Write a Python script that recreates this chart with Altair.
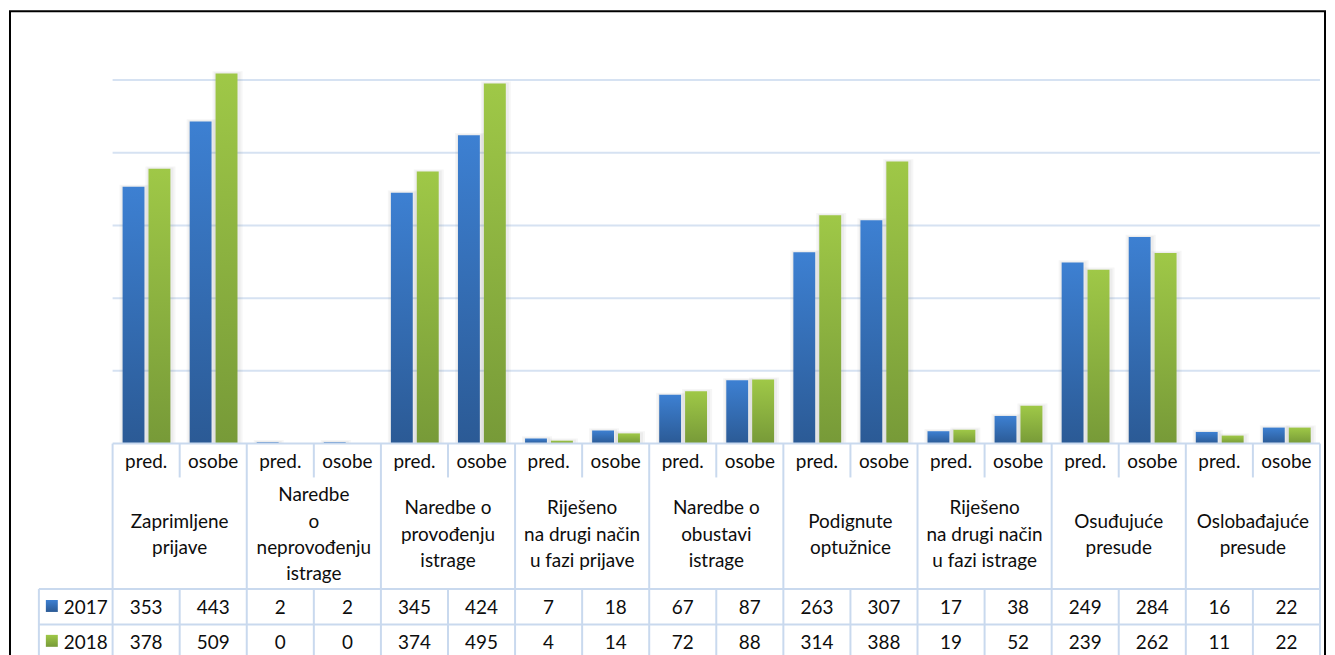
import altair as alt
import pandas as pd

# ---- data ----
subcats = ["pred.", "osobe"] * 9
groups = [
    "Zaprimljene\nprijave",
    "Naredbe\no\nneprovođenju\nistrage",
    "Naredbe o\nprovođenju\nistrage",
    "Riješeno\nna drugi način\nu fazi prijave",
    "Naredbe o\nobustavi\nistrage",
    "Podignute\noptužnice",
    "Riješeno\nna drugi način\nu fazi istrage",
    "Osuđujuće\npresude",
    "Oslobađajuće\npresude",
]
v2017 = [353, 443, 2, 2, 345, 424, 7, 18, 67, 87, 263, 307, 17, 38, 249, 284, 16, 22]
v2018 = [378, 509, 0, 0, 374, 495, 4, 14, 72, 88, 314, 388, 19, 52, 239, 262, 11, 22]
years = ["2017", "2018"]
grid_values = [100, 200, 300, 400, 500]

# ---- layout constants ----
W, H = 1320, 650
COLW = 67.33
D0 = -103 / COLW
D1 = D0 + W / COLW
LEG_L = 29 / COLW + D0
FONT = "Lato"
FS = 19
LH = 26.5

xs = alt.Scale(domain=[D0, D1], nice=False, zero=False)
by = alt.Scale(domain=[-(H - 434) / 0.73, 434 / 0.73], nice=False, zero=False)
ty = alt.Scale(domain=[-434, H - 434], nice=False, zero=False, reverse=True)

n = len(subcats)
bars = pd.DataFrame({
    "i": list(range(n)),
    "sub": subcats,
    "v2017": v2017,
    "v2018": v2018,
})
bars["c"] = bars["i"] + 0.5
bars["bx0"] = bars["i"] + 0.149
bars["bx1"] = bars["i"] + 0.475
bars["gx0"] = bars["i"] + 0.535
bars["gx1"] = bars["i"] + 0.862
bars["zero"] = 0

blue_grad = alt.Gradient(gradient="linear", x1=0, x2=0, y1=0, y2=1,
                         stops=[alt.GradientStop(color="#3D80D2", offset=0),
                                alt.GradientStop(color="#2B5A95", offset=1)])
green_grad = alt.Gradient(gradient="linear", x1=0, x2=0, y1=0, y2=1,
                          stops=[alt.GradientStop(color="#9FC847", offset=0),
                                 alt.GradientStop(color="#779A38", offset=1)])

base = alt.Chart(bars)

grid = alt.Chart(pd.DataFrame({"g": grid_values, "a": 0, "b": 18})).mark_rule(
    color="#D6E2F2", strokeWidth=2
).encode(
    x=alt.X("a:Q", scale=xs, axis=None),
    x2="b:Q",
    y=alt.Y("g:Q", scale=by, axis=None),
)

def shadow(x0, x1, val, pad, op):
    return base.mark_rect(color="#808080", opacity=op).encode(
        x=alt.X(f"{x0}:Q", scale=xs, axis=None),
        x2=f"{x1}:Q",
        y=alt.Y(f"{val}:Q", scale=by, axis=None),
        y2="zero:Q",
    ).transform_calculate(**{
        x0: f"datum.{x0} - {pad[0]}",
        x1: f"datum.{x1} + {pad[1]}",
        val: f"datum.{val} > 0 ? datum.{val} + {pad[2]} : 0",
    })

shadows = [
    shadow("bx0", "bx1", "v2017", (0.045, 0.075, 3.0), 0.07),
    shadow("bx0", "bx1", "v2017", (0.02, 0.045, 1.5), 0.08),
    shadow("gx0", "gx1", "v2018", (0.045, 0.075, 3.0), 0.07),
    shadow("gx0", "gx1", "v2018", (0.02, 0.045, 1.5), 0.08),
]

blue = base.mark_rect(fill=blue_grad).encode(
    x=alt.X("bx0:Q", scale=xs, axis=None), x2="bx1:Q",
    y=alt.Y("v2017:Q", scale=by, axis=None), y2="zero:Q",
)
green = base.mark_rect(fill=green_grad).encode(
    x=alt.X("gx0:Q", scale=xs, axis=None), x2="gx1:Q",
    y=alt.Y("v2018:Q", scale=by, axis=None), y2="zero:Q",
)

# ---- table ----
R_SUB, R_HEAD, R_17, R_18 = 34, 146, 181.5, 217
rules = []
for k in range(0, 19, 2):
    rules.append((k, k, 0, R_18))
for k in range(1, 18, 2):
    rules.append((k, k, 0, R_SUB))
    rules.append((k, k, R_HEAD, R_18))
rules.append((LEG_L, LEG_L, R_HEAD, R_18))
rules.append((0, 18, 0, 0))
for yy in (R_HEAD, R_17, R_18):
    rules.append((LEG_L, 18, yy, yy))
rules_df = pd.DataFrame(rules, columns=["x", "x2", "y", "y2"])

table_lines = alt.Chart(rules_df).mark_rule(color="#C9D9EE", strokeWidth=2).encode(
    x=alt.X("x:Q", scale=xs, axis=None), x2="x2:Q",
    y=alt.Y("y:Q", scale=ty, axis=None), y2="y2:Q",
)

TXT = dict(font=FONT, fontSize=FS, color="#0D0D0D", baseline="middle")

sub_text = base.mark_text(**TXT).encode(
    x=alt.X("c:Q", scale=xs, axis=None),
    y=alt.Y("ty:Q", scale=ty, axis=None),
    text="sub:N",
).transform_calculate(ty="18.5")

grp_df = pd.DataFrame({
    "g": groups,
    "c": [2 * k + 1 for k in range(len(groups))],
    "nl": [g.count("\n") for g in groups],
})
grp_text = alt.Chart(grp_df).mark_text(lineBreak="\n", lineHeight=LH, **TXT).encode(
    x=alt.X("c:Q", scale=xs, axis=None),
    y=alt.Y("ty:Q", scale=ty, axis=None),
    text="g:N",
).transform_calculate(ty=f"91.5 - datum.nl * {LH / 2}")

val17 = base.mark_text(**TXT).encode(
    x=alt.X("c:Q", scale=xs, axis=None),
    y=alt.Y("ty:Q", scale=ty, axis=None),
    text="v2017:Q",
).transform_calculate(ty="165")
val18 = base.mark_text(**TXT).encode(
    x=alt.X("c:Q", scale=xs, axis=None),
    y=alt.Y("ty:Q", scale=ty, axis=None),
    text="v2018:Q",
).transform_calculate(ty="200.5")

leg_df = pd.DataFrame({
    "year": years,
    "ty": [165, 200.5],
    "sy0": [157, 192],
    "sy1": [169, 204],
    "sx0": [36 / COLW + D0] * 2,
    "sx1": [48 / COLW + D0] * 2,
    "tx": [54 / COLW + D0] * 2,
})
leg_blue = alt.Chart(leg_df.iloc[[0]]).mark_rect(fill=blue_grad).encode(
    x=alt.X("sx0:Q", scale=xs, axis=None), x2="sx1:Q",
    y=alt.Y("sy0:Q", scale=ty, axis=None), y2="sy1:Q",
)
leg_green = alt.Chart(leg_df.iloc[[1]]).mark_rect(fill=green_grad).encode(
    x=alt.X("sx0:Q", scale=xs, axis=None), x2="sx1:Q",
    y=alt.Y("sy0:Q", scale=ty, axis=None), y2="sy1:Q",
)
leg_text = alt.Chart(leg_df).mark_text(align="left", **TXT).encode(
    x=alt.X("tx:Q", scale=xs, axis=None),
    y=alt.Y("ty:Q", scale=ty, axis=None),
    text="year:N",
)

chart = alt.layer(
    grid, *shadows, blue, green,
    table_lines, sub_text, grp_text, val17, val18, leg_blue, leg_green, leg_text,
).resolve_scale(y="independent").properties(
    width=W, height=H,
    padding={"left": 2, "top": 2, "right": 2, "bottom": 0},
    background="white",
).configure_view(stroke="black", strokeWidth=2)

chart.save("out.html", embed_options={"renderer": "svg", "actions": False})
